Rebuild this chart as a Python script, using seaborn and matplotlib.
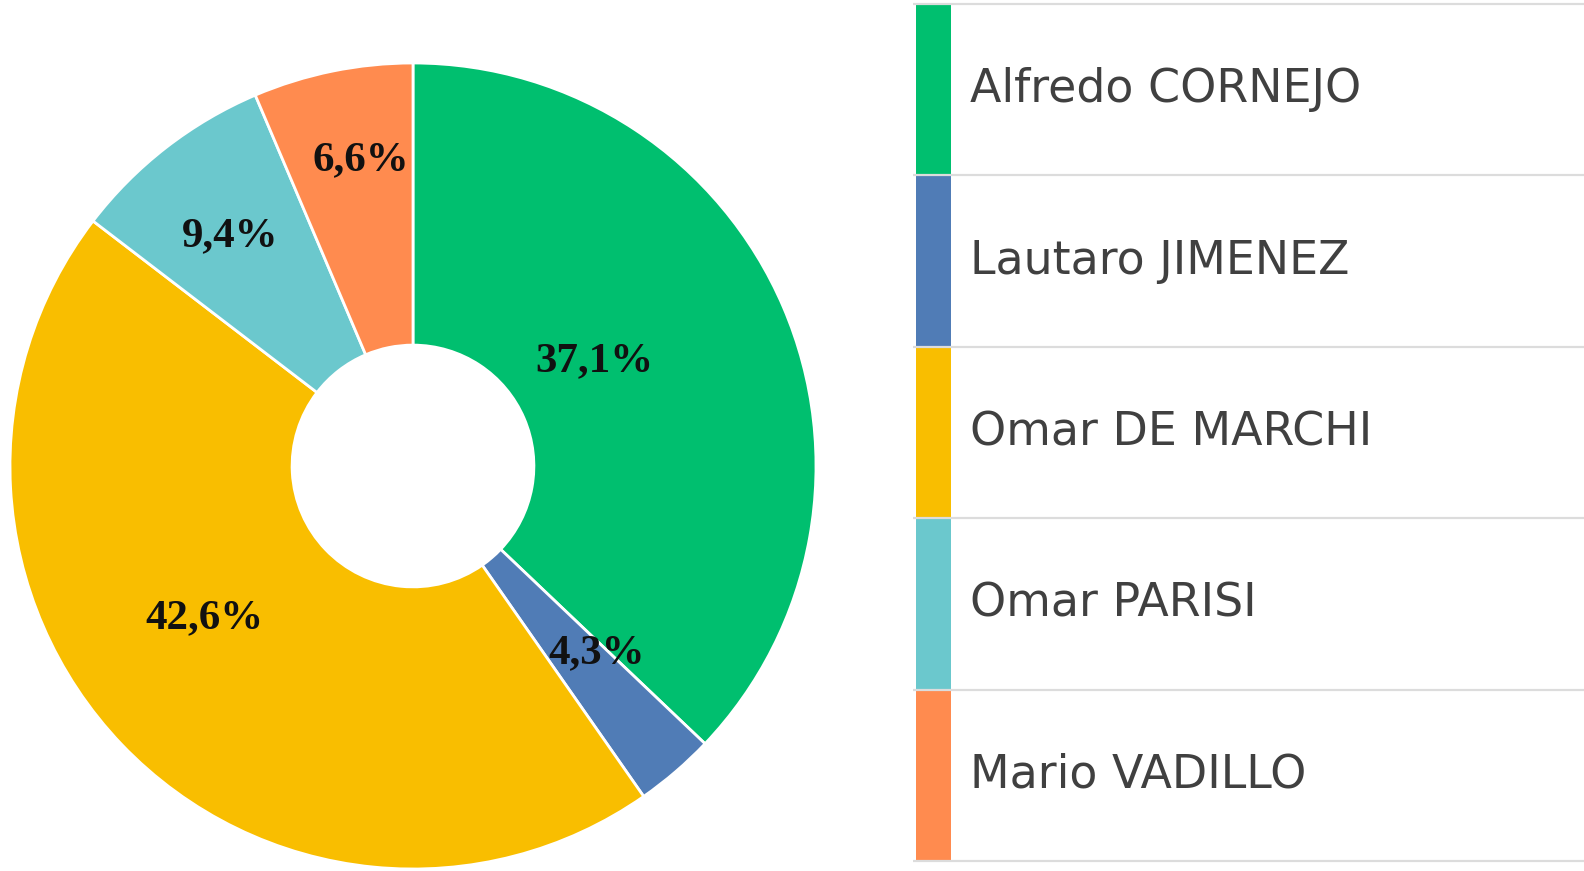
import numpy as np
import matplotlib
matplotlib.use('Agg')
import matplotlib.pyplot as plt
import seaborn as sns

# Data
candidates = ['Alfredo CORNEJO', 'Lautaro JIMENEZ', 'Omar DE MARCHI', 'Omar PARISI', 'Mario VADILLO']
pct_labels = ['37,1%', '4,3%', '42,6%', '9,4%', '6,6%']
# wedge sizes as actually drawn in the picture (measured from the slice angles)
wedge_sizes = [37.1, 3.2, 45.1, 8.2, 6.4]
colors = ['#00BF6F', '#507CB6', '#F9BE00', '#6BC8CD', '#FF8B4F']

# label placement tweaks (radial fraction, angle offset in degrees)
label_radius = [0.52, 0.65, 0.64, 0.73, 0.77]
label_shift = [6.7, 3.8, -7.7, 0.7, -1.9]

sns.set_theme(style='white')
plt.rcParams['font.family'] = ['DejaVu Sans']

W, H = 1584, 871
fig = plt.figure(figsize=(W / 100, H / 100), dpi=100)

# Donut
cx, cy, r = 413, 466, 403
ax = fig.add_axes([(cx - r) / W, (H - cy - r) / H, 2 * r / W, 2 * r / H])
wedges, _ = ax.pie(wedge_sizes, colors=colors, startangle=90, counterclock=False,
                   wedgeprops=dict(width=0.70, edgecolor='white', linewidth=2))
ax.set_xlim(-1.0, 1.0)
ax.set_ylim(-1.0, 1.0)
ax.set_aspect('equal')
ax.axis('off')
for w, lab, rr, sh in zip(wedges, pct_labels, label_radius, label_shift):
    ang = np.deg2rad((w.theta1 + w.theta2) / 2 + sh)
    ax.text(rr * np.cos(ang), rr * np.sin(ang), lab, ha='center', va='center',
            fontsize=31, fontweight='bold', family='Liberation Serif', color='#111111')

# Legend table
top, bot = 4, 861
x0, xs = 916, 951
sax = fig.add_axes([x0 / W, (H - bot) / H, (xs - x0) / W, (bot - top) / H])
sns.barplot(x=[1] * len(candidates), y=candidates, hue=candidates, palette=colors,
            orient='h', width=1.0, legend=False, ax=sax, linewidth=0, saturation=1)
sax.set_xlim(0, 1)
sax.set_ylim(len(candidates) - 0.5, -0.5)
sax.axis('off')

tax = fig.add_axes([xs / W, (H - bot) / H, (W - xs) / W, (bot - top) / H])
tax.set_xlim(0, 1)
tax.set_ylim(len(candidates), 0)
tax.axis('off')
tax.hlines(np.arange(len(candidates) + 1), -0.06, 1, color='#dcdcdc', lw=1.6, clip_on=False)
for i, name in enumerate(candidates):
    tax.text(19 / (W - xs), i + 0.5, name, ha='left', va='center',
             fontsize=33, color='#404040')

fig.savefig('out.png', dpi=100)
